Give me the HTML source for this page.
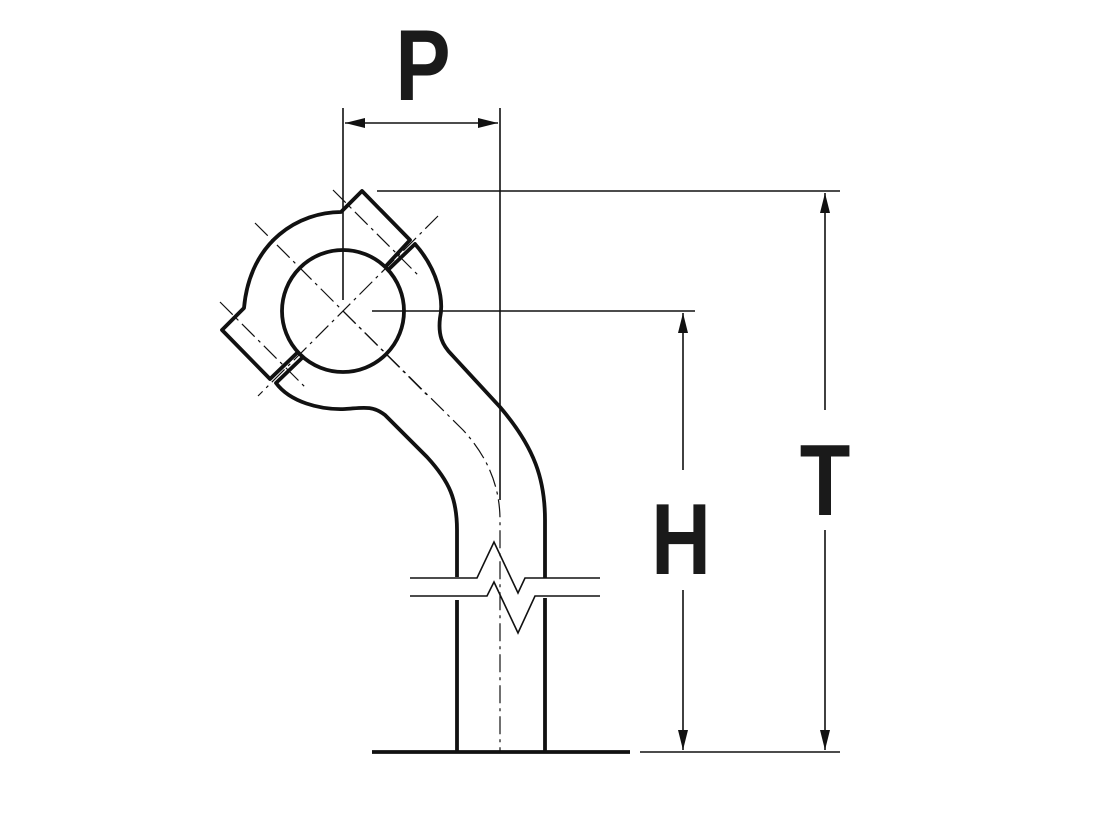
<!DOCTYPE html>
<html><head><style>html,body{margin:0;padding:0;background:#fff;}svg{display:block}</style></head>
<body>
<svg width="1111" height="813" viewBox="0 0 1111 813" xmlns="http://www.w3.org/2000/svg">
<defs>
<marker id="a" viewBox="0 0 20 10" refX="20" refY="5" markerWidth="22" markerHeight="10" markerUnits="userSpaceOnUse" orient="auto-start-reverse"><path d="M0,0 L20,5 L0,10 Z" fill="#111"/></marker>
</defs>
<g stroke="#111" stroke-width="1.6" fill="none">
<line x1="343" y1="108" x2="343" y2="300"/>
<line x1="500" y1="108" x2="500" y2="500"/>
<line x1="345" y1="123" x2="498" y2="123" marker-start="url(#a)" marker-end="url(#a)"/>
<line x1="377" y1="191" x2="840" y2="191"/>
<line x1="372" y1="311" x2="695" y2="311"/>
<line x1="640" y1="752" x2="840" y2="752"/>
<line x1="825" y1="193" x2="825" y2="410" marker-start="url(#a)"/>
<line x1="825" y1="530" x2="825" y2="750" marker-end="url(#a)"/>
<line x1="683" y1="313" x2="683" y2="470" marker-start="url(#a)"/>
<line x1="683" y1="590" x2="683" y2="750" marker-end="url(#a)"/>
</g>
<g stroke="#111" stroke-width="1.2" fill="none" stroke-dasharray="18,5,3,5">
<line x1="255" y1="223" x2="430" y2="398"/>
<line x1="438" y1="216" x2="258" y2="396"/>
<line x1="333" y1="190" x2="420" y2="277"/>
<line x1="220" y1="302" x2="307" y2="389"/>
<path d="M343,311 L463,430 Q500,470 500,520 L500,752"/>
</g>
<g stroke="#111" stroke-width="3.8" fill="none" stroke-linejoin="round">
<circle cx="343" cy="311" r="61"/>
<path d="M386,266 L410,240 L362,191 L341,212 C300,212 250,240 244,308 L222,330 L270,379 L297,353"/>
<path d="M389,269 L415,244 C438,270 444,300 440,318 C438,335 442,345 452,355 L500,407 C535,448 545,480 545,520 L545,578"/>
<path d="M303,357 L276,383 C290,402 320,410 345,409 C362,408 372,405 385,415 L427,457 C450,482 457,500 457,530 L457,577"/>
<line x1="457" y1="600" x2="457" y2="752"/>
<line x1="545" y1="598" x2="545" y2="752"/>
<line x1="372" y1="752" x2="630" y2="752"/>
</g>
<g stroke="#111" stroke-width="1.6" fill="none" stroke-linejoin="miter">
<path d="M410,578 L477,578 L494,542 L518,593 L525,578 L600,578"/>
<path d="M410,596 L487,596 L494,582 L518,633 L535,596 L600,596"/>
</g>
<g font-family="Liberation Sans, sans-serif" font-weight="bold" font-size="101" fill="#1a1a1a" text-anchor="middle">
<text transform="translate(423,100) scale(0.82,1)">P</text>
<text transform="translate(681,574) scale(0.82,1)">H</text>
<text transform="translate(825,515) scale(0.82,1)">T</text>
</g>
</svg>
</body></html>
